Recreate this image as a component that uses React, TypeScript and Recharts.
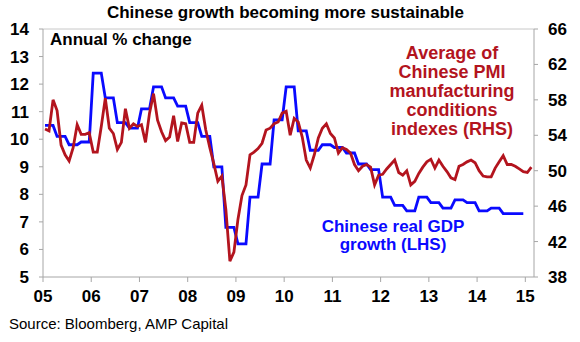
import { LineChart, Line, XAxis, YAxis, ReferenceLine } from 'recharts';

// Chinese real GDP growth, % y/y, quarterly from Q1 2005 to Q4 2014
const gdpGrowth = [
  10.5, 10.1, 9.8, 9.9,
  12.4, 11.5, 10.6, 10.4,
  11.1, 11.9, 11.5, 11.2,
  10.6, 10.1, 9.0, 6.8,
  6.2, 7.9, 9.1, 10.7,
  11.9, 10.3, 9.6, 9.8,
  9.7, 9.5, 9.1, 8.9,
  7.9, 7.6, 7.4, 7.9,
  7.7, 7.5, 7.8, 7.7,
  7.4, 7.5, 7.3, 7.3
];

// Average of Chinese PMI manufacturing conditions indexes, monthly from Jan 2005 to Feb 2015
const pmiAverage = [
  54.7, 54.5, 58.0, 56.8, 52.9, 51.8, 51.1, 52.6, 55.2, 54.1, 54.1, 54.3,
  52.1, 52.1, 55.0, 58.2, 54.8, 54.2, 52.4, 53.2, 57.0, 54.8, 55.3, 55.0,
  55.2, 53.2, 56.5, 58.7, 55.7, 54.4, 53.4, 53.8, 56.2, 53.3, 55.4, 55.3,
  53.2, 53.2, 56.5, 57.4, 54.6, 52.6, 50.8, 48.8, 49.4, 45.6, 39.8, 40.8,
  44.5, 47.2, 48.4, 51.8, 52.1, 52.5, 53.1, 54.6, 54.8, 55.3, 55.5, 56.5,
  56.7, 54.0, 55.9, 55.5, 53.8, 51.2, 50.3, 51.8, 53.7, 54.8, 55.3, 54.2,
  53.7, 52.0, 52.6, 52.4, 52.0, 50.7, 50.0, 50.5, 50.7, 50.4, 48.4, 49.5,
  49.6, 50.2, 50.7, 51.2, 49.8, 49.5, 50.0, 48.4, 48.8, 49.7, 50.4, 51.0,
  51.3, 50.3, 51.2, 50.5, 49.9, 49.2, 49.0, 50.5, 50.7, 51.0, 51.2, 50.9,
  50.0, 49.4, 49.3, 49.3, 50.3, 51.0, 51.7, 50.7, 50.7, 50.5, 50.2, 49.9,
  49.8, 50.4
];

const startYear = 2005;
const yearTicks = [2005, 2006, 2007, 2008, 2009, 2010, 2011, 2012, 2013, 2014, 2015];
const gdpTicks = [5, 6, 7, 8, 9, 10, 11, 12, 13, 14];
const pmiTicks = [38, 42, 46, 50, 54, 58, 62, 66];

const FONT = 'Arial, "Liberation Sans", sans-serif';
const BLUE = '#0A0AFF';
const RED = '#B3141E';
const AXIS = '#A6A6A6';

// both series are plotted monthly (mid-month); each quarterly GDP figure is held for its three months
const monthX = (i: number) => startYear + (i + 0.5) / 12;

const gdpData = gdpGrowth.flatMap((v, q) =>
  [0, 1, 2].map((m) => ({ t: monthX(q * 3 + m), gdp: v }))
);

const pmiData = pmiAverage.map((v, i) => ({ t: monthX(i), pmi: v }));

const tickStyle = { fill: '#000', fontSize: 17, fontWeight: 'bold', fontFamily: FONT };

export default function App() {
  return (
    <div
      style={{
        position: 'absolute',
        left: 0,
        top: 0,
        width: 580,
        height: 342,
        background: '#fff',
        fontFamily: FONT
      }}
    >
      <div
        style={{
          position: 'absolute',
          left: 0,
          width: 571,
          top: 4,
          textAlign: 'center',
          fontSize: 17,
          lineHeight: '17px',
          fontWeight: 'bold'
        }}
      >
        Chinese growth becoming more sustainable
      </div>

      <LineChart
        width={580}
        height={342}
        margin={{ top: 29, right: 0, bottom: 35, left: 0 }}
      >
        <XAxis
          type="number"
          dataKey="t"
          domain={[2005, 2015.18]}
          ticks={yearTicks}
          tickFormatter={(v: number) => String(v).slice(2)}
          allowDataOverflow
          height={30}
          stroke={AXIS}
          tickSize={5}
          tickMargin={8}
          tick={tickStyle}
        />
        <YAxis
          yAxisId="gdp"
          domain={[5, 14]}
          ticks={gdpTicks}
          width={43}
          stroke={AXIS}
          tickSize={4}
          tickMargin={10}
          tick={tickStyle}
        />
        <YAxis
          yAxisId="pmi"
          orientation="right"
          domain={[38, 66]}
          ticks={pmiTicks}
          width={46}
          stroke={AXIS}
          tickSize={4}
          tickMargin={10}
          tick={tickStyle}
        />
        <ReferenceLine yAxisId="gdp" y={14} stroke="#C8C8C8" />
        <Line
          yAxisId="gdp"
          data={gdpData}
          dataKey="gdp"
          type="linear"
          stroke={BLUE}
          strokeWidth={2.8}
          dot={false}
          isAnimationActive={false}
        />
        <Line
          yAxisId="pmi"
          data={pmiData}
          dataKey="pmi"
          type="linear"
          stroke={RED}
          strokeWidth={2.8}
          dot={false}
          isAnimationActive={false}
        />
      </LineChart>

      <div
        style={{
          position: 'absolute',
          left: 50,
          top: 31,
          fontSize: 17,
          lineHeight: '17px',
          fontWeight: 'bold'
        }}
      >
        Annual % change
      </div>

      <div
        style={{
          position: 'absolute',
          left: 362,
          width: 180,
          top: 44,
          textAlign: 'center',
          fontSize: 18,
          lineHeight: '19px',
          fontWeight: 'bold',
          color: RED
        }}
      >
        Average of
        <br />
        Chinese PMI
        <br />
        manufacturing
        <br />
        conditions
        <br />
        indexes (RHS)
      </div>

      <div
        style={{
          position: 'absolute',
          left: 303,
          width: 180,
          top: 218,
          textAlign: 'center',
          fontSize: 17,
          lineHeight: '18px',
          fontWeight: 'bold',
          color: BLUE
        }}
      >
        Chinese real GDP
        <br />
        growth (LHS)
      </div>

      <div
        style={{
          position: 'absolute',
          left: 9,
          top: 316,
          fontSize: 15,
          lineHeight: '15px'
        }}
      >
        Source: Bloomberg, AMP Capital
      </div>
    </div>
  );
}
